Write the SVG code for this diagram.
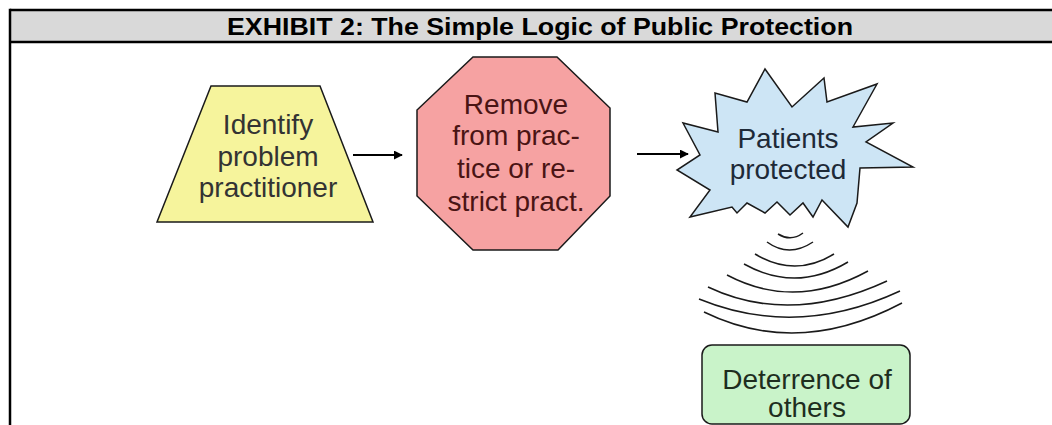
<svg xmlns="http://www.w3.org/2000/svg" width="1052" height="425" viewBox="0 0 1052 425">
<style>
.lbl{font-family:"Liberation Sans",Arial,sans-serif;font-size:28px;text-anchor:middle}
.shape{stroke:#1a1a1a;stroke-width:1.5;stroke-linejoin:miter}
.wave{fill:none;stroke:#1a1a1a;stroke-width:1.5}
.conn{stroke:#000;stroke-width:2;fill:none}
</style>
<defs>
<marker id="ah" viewBox="0 0 10 10" refX="9" refY="5" markerWidth="4.5" markerHeight="4.5" orient="auto" markerUnits="strokeWidth">
<path d="M0,0 L10,5 L0,10 z" fill="#000"/>
</marker>
</defs>
<rect x="0" y="0" width="1052" height="425" fill="#fff"/>
<g id="frame">
<rect x="10" y="10" width="1042" height="32" fill="#d9d9d9"/>
<line x1="10" y1="10" x2="1052" y2="10" stroke="#000" stroke-width="2.5"/>
<line x1="10" y1="42" x2="1052" y2="42" stroke="#000" stroke-width="2.5"/>
<line x1="10" y1="8.8" x2="10" y2="425" stroke="#000" stroke-width="2.5"/>
<text x="540" y="35" font-family="'Liberation Sans',Arial,sans-serif" font-weight="bold" font-size="23" text-anchor="middle" textLength="626" lengthAdjust="spacingAndGlyphs">EXHIBIT 2: The Simple Logic of Public Protection</text>
</g>
<g id="identify">
<polygon class="shape" points="211,86 320,86 373,222 157,222" fill="#f6f49c"/>
<text class="lbl" fill="#333" x="268" y="134">Identify</text>
<text class="lbl" fill="#333" x="268" y="166">problem</text>
<text class="lbl" fill="#333" x="268" y="197">practitioner</text>
</g>
<g id="remove">
<polygon class="shape" points="473,57 557,57 610,108 610,196 558,250 473,250 417,196 417,110" fill="#f6a2a2"/>
<text class="lbl" fill="#4a1414" x="516" y="114">Remove</text>
<text class="lbl" fill="#4a1414" x="516" y="145">from prac-</text>
<text class="lbl" fill="#4a1414" x="516" y="178">tice or re-</text>
<text class="lbl" fill="#4a1414" x="516" y="211">strict pract.</text>
</g>
<g id="protected">
<polygon class="shape" points="765,69 792,107 824,78 827,102 877,84 853,127 893,123 866,142 913,167 860,168 857,203 848,227 822,200 813,217 803,203 790,215 777,202 765,213 747,203 737,213 732,207 690,217 710,190 677,170 700,155 683,123 718,132 715,93 747,102" fill="#cde5f5"/>
<text class="lbl" fill="#1e2a38" x="788" y="148">Patients</text>
<text class="lbl" fill="#1e2a38" x="788" y="179">protected</text>
</g>
<g id="waves">
<path class="wave" d="M778,234 Q791,242 803,233"/>
<path class="wave" d="M767,242 Q789,258 813,242"/>
<path class="wave" d="M755,254 Q795,278 834,254"/>
<path class="wave" d="M744,264 Q796,293 848,262"/>
<path class="wave" d="M727,275 Q795,311 868,271"/>
<path class="wave" d="M708,287 Q790,326 887,281"/>
<path class="wave" d="M699,299 Q797,339 900,291"/>
<path class="wave" d="M704,312 Q798,358 902,303"/>
</g>
<g id="deterrence">
<rect class="shape" x="702" y="345" width="208" height="79" rx="10" fill="#c9f3c9"/>
<text class="lbl" fill="#1e2e1e" x="807" y="389">Deterrence of</text>
<text class="lbl" fill="#1e2e1e" x="807" y="417">others</text>
</g>
<g id="connectors">
<line class="conn" x1="353" y1="155" x2="402" y2="155" marker-end="url(#ah)"/>
<line class="conn" x1="637" y1="154" x2="688" y2="154" marker-end="url(#ah)"/>
</g>
</svg>
